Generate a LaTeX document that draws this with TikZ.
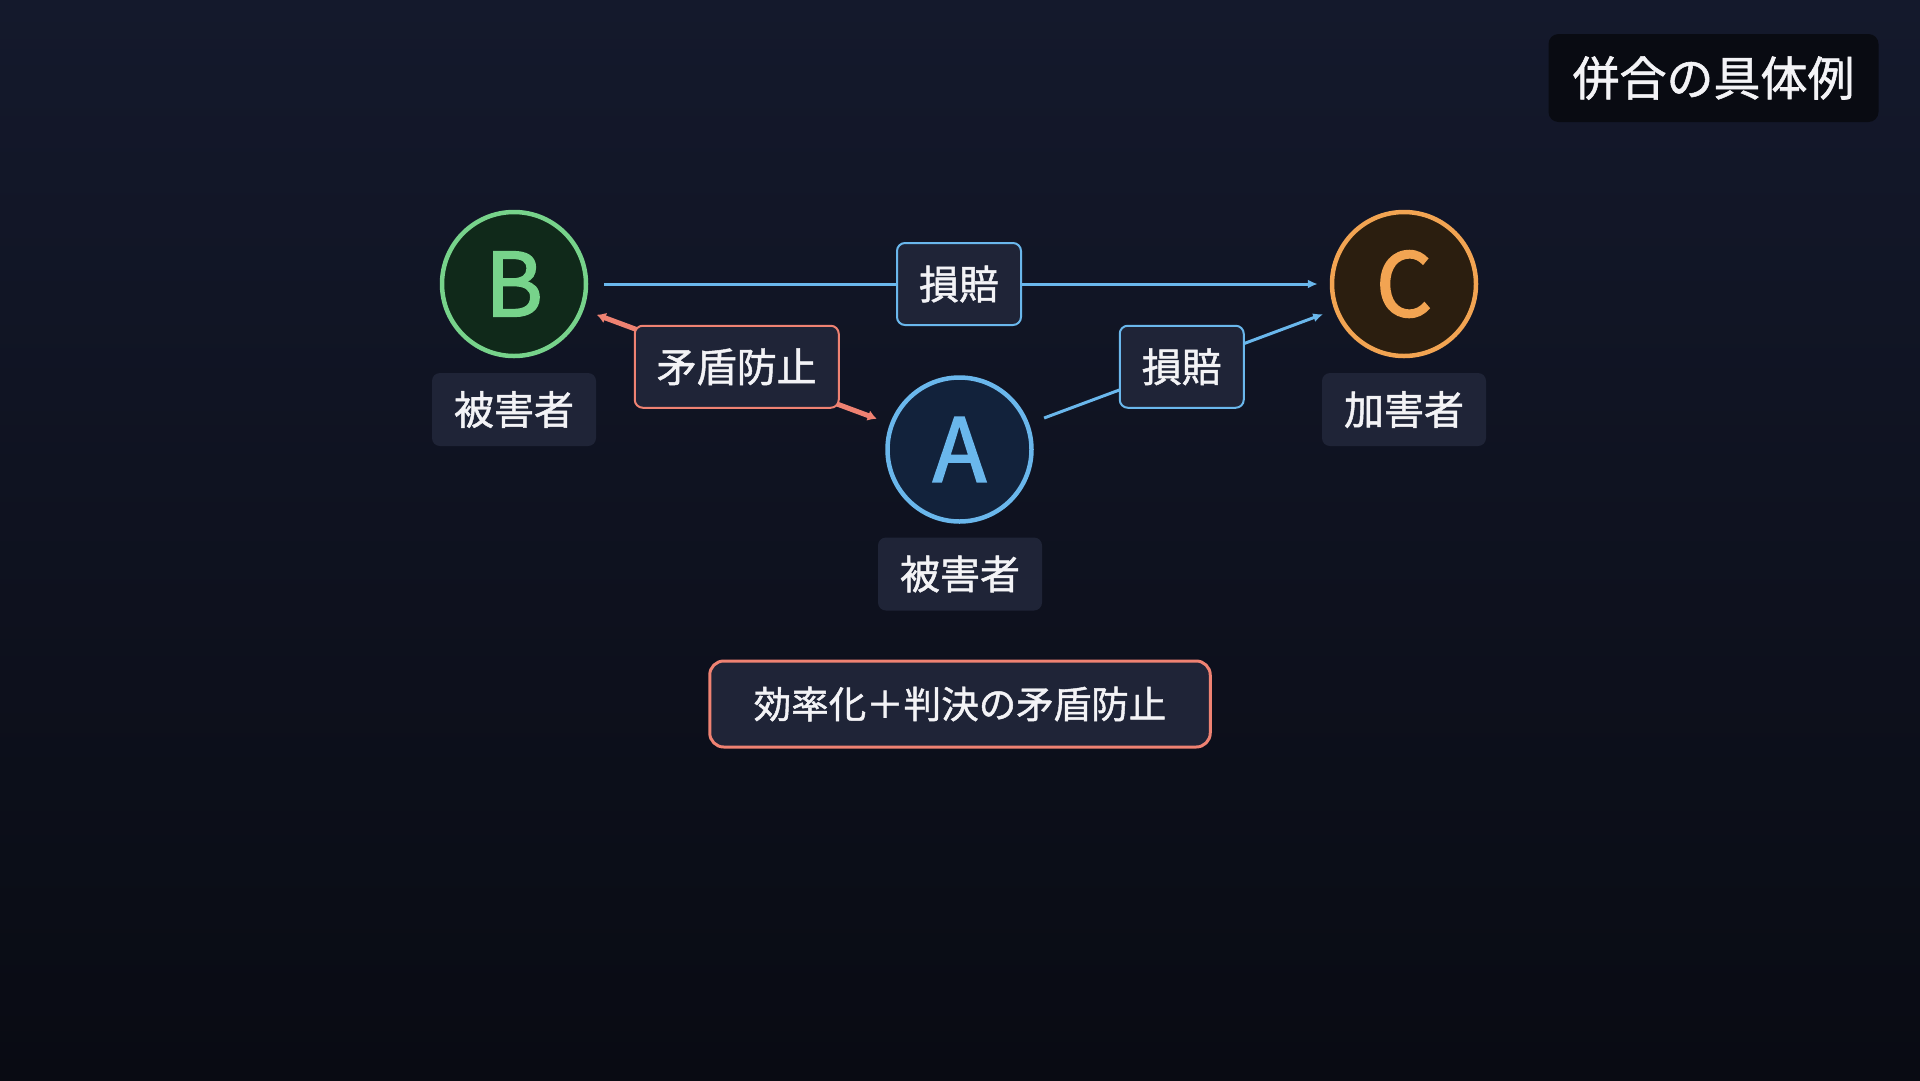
\documentclass[tikz,border=0pt]{standalone}
\usepackage{fontspec}
\setmainfont{Noto Sans CJK JP}
\usetikzlibrary{arrows.meta,calc}
\definecolor{bgtop}{RGB}{20,25,44}
\definecolor{bgbot}{RGB}{9,11,19}
\definecolor{lblfill}{RGB}{31,36,55}
\definecolor{titlefill}{RGB}{9,11,18}
\definecolor{grn}{RGB}{119,211,139}
\definecolor{grnfill}{RGB}{16,41,26}
\definecolor{blu}{RGB}{106,183,236}
\definecolor{blufill}{RGB}{18,34,59}
\definecolor{org}{RGB}{242,164,82}
\definecolor{orgfill}{RGB}{43,30,15}
\definecolor{redc}{RGB}{239,130,114}
\definecolor{txt}{RGB}{243,243,246}
\begin{document}
\begin{tikzpicture}[x=1pt,y=-1pt,
  party/.style={circle, line width=4.5pt, minimum size=144pt, inner sep=0pt,
    font=\fontsize{88}{92}\selectfont\addfontfeature{FakeBold=2}},
  namebox/.style={rectangle, rounded corners=8pt, fill=lblfill, text=txt,
    inner xsep=22pt, inner ysep=0pt, minimum height=73pt,
    font=\fontsize{40}{48}\selectfont\addfontfeature{FakeBold=1.2}},
  edgelbl/.style={rectangle, rounded corners=8pt, fill=lblfill, text=txt,
    line width=2pt, inner xsep=22pt, inner ysep=0pt, minimum height=82pt,
    font=\fontsize{40}{48}\selectfont\addfontfeature{FakeBold=1.2}},
  blueedge/.style={draw=blu, line width=3pt, shorten <=16pt, shorten >=12pt,
    -{Latex[length=10pt,width=9pt]}},
  rededge/.style={draw=redc, line width=5pt, shorten <=14pt, shorten >=14pt,
    {Latex[length=9pt,width=11pt]}-{Latex[length=9pt,width=11pt]}},
  summary/.style={rectangle, rounded corners=14pt, fill=lblfill, draw=redc,
    line width=3pt, text=txt, inner xsep=44pt, inner ysep=0pt, minimum height=86pt,
    font=\fontsize{37.5}{44}\selectfont\addfontfeature{FakeBold=1.2}},
  titlebox/.style={rectangle, rounded corners=10pt, fill=titlefill, text=txt,
    inner xsep=24pt, inner ysep=0pt, minimum height=88pt,
    font=\fontsize{47}{54}\selectfont\addfontfeature{FakeBold=1.2}}
]
\shade[top color=bgtop, bottom color=bgbot] (0,0) rectangle (1920,1080);
\useasboundingbox (0,0) rectangle (1920,1080);

\node[party, draw=grn, fill=grnfill, text=grn] (B) at (514,284) {B};
\node[party, draw=blu, fill=blufill, text=blu] (A) at (959.5,449.5) {A};
\node[party, draw=org, fill=orgfill, text=org] (C) at (1404,284) {C};

\node[namebox] (Bn) at (514,409.5) {被害者};
\node[namebox] (An) at (960,574) {被害者};
\node[namebox] (Cn) at (1404,409.5) {加害者};

\draw[blueedge] (B) -- node[edgelbl, draw=blu] (l1) {損賠} (C);
\draw[blueedge] (A) -- node[edgelbl, draw=blu] (l2) {損賠} (C);
\draw[rededge] (B) -- node[edgelbl, draw=redc] (l3) {矛盾防止} (A);

\node[summary] (s) at (960,704) {効率化＋判決の矛盾防止};
\node[titlebox] (t) at (1713.5,78) {併合の具体例};
\end{tikzpicture}
\end{document}
